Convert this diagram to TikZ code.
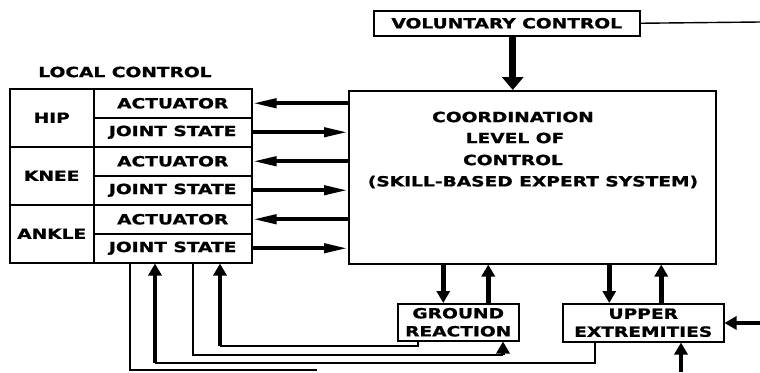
\documentclass[tikz,border=0pt]{standalone}
\usepackage{fontspec}
\setmainfont{DejaVu Sans}[FakeStretch=1.33,FakeBold=1.2]
\usetikzlibrary{arrows.meta}
\begin{document}
\begin{tikzpicture}[x=1pt,y=-1pt,
  font=\fontsize{14}{18}\selectfont\bfseries,
  box/.style={draw, line width=1.5pt, inner sep=0pt, anchor=north west, align=center},
  caption/.style={inner sep=0pt},
  wire/.style={line width=1.4pt},
  harrow/.style={line width=4pt, -{Triangle[length=24pt,width=9pt]}},
  varrow/.style={line width=4.5pt, -{Triangle[length=12pt,width=13pt]}},
  bigarrow/.style={line width=7pt, -{Triangle[length=13pt,width=21pt]}},
]
\useasboundingbox (0,0) rectangle (760,372);

% local control table
\node[caption] (localtitle) at (125,72) {LOCAL CONTROL};
\node[box, minimum width=84pt, minimum height=58pt] (hip)   at (9,88)  {HIP};
\node[box, minimum width=84pt, minimum height=58pt] (knee)  at (9,146) {KNEE};
\node[box, minimum width=84pt, minimum height=58pt] (ankle) at (9,204) {ANKLE};
\node[box, minimum width=158pt, minimum height=29pt] (hipact)   at (93,88)  {ACTUATOR};
\node[box, minimum width=158pt, minimum height=29pt] (hipjs)    at (93,117) {JOINT STATE};
\node[box, minimum width=158pt, minimum height=29pt] (kneeact)  at (93,146) {ACTUATOR};
\node[box, minimum width=158pt, minimum height=29pt] (kneejs)   at (93,175) {JOINT STATE};
\node[box, minimum width=158pt, minimum height=29pt] (ankleact) at (93,204) {ACTUATOR};
\node[box, minimum width=158pt, minimum height=29pt] (anklejs)  at (93,233) {JOINT STATE};

% coordination level
\node[box, minimum width=367pt, minimum height=173pt] (coord) at (348,90) {};
\node[caption] (cl1) at (513,117) {COORDINATION};
\node[caption] (cl2) at (515,138) {LEVEL OF};
\node[caption] (cl3) at (513,160) {CONTROL};
\node[caption] (cl4) at (533,182) {(SKILL-BASED EXPERT SYSTEM)};

% other blocks
\node[box, minimum width=266pt, minimum height=25pt] (vc) at (373,10) {VOLUNTARY CONTROL};
\node[box, minimum width=121pt, minimum height=37pt] (gr) at (397,303) {GROUND\\REACTION};
\node[box, minimum width=161pt, minimum height=38pt] (ue) at (562,303) {UPPER\\EXTREMITIES};

% actuator commands and joint state feedback
\foreach \j in {hip,knee,ankle}{
  \draw[harrow] (coord.west |- \j act.east) -- (\j act.east);
  \draw[harrow] (\j js.east) -- (coord.west |- \j js.east);
}

% voluntary control
\draw[bigarrow] ([xshift=6pt]vc.south) -- ([xshift=6pt]vc.south |- coord.north);
\coordinate (vcend) at (760,22);
\draw[wire] (vc.east) -- (vcend);

% coordination <-> ground reaction / upper extremities
\draw[varrow] ([xshift=-15pt]gr.north |- coord.south) -- ([xshift=-15pt]gr.north);
\draw[varrow] ([xshift=30pt]gr.north) -- ([xshift=30pt]gr.north |- coord.south);
\draw[varrow] ([xshift=-34pt]ue.north |- coord.south) -- ([xshift=-34pt]ue.north);
\draw[varrow] ([xshift=18pt]ue.north) -- ([xshift=18pt]ue.north |- coord.south);

% external inputs to upper extremities
\coordinate (uein) at (760,323);
\draw[varrow] (uein) -- (uein -| ue.east);
\coordinate (uebot) at (681,372);
\draw[varrow] (uebot) -- (uebot |- ue.south);

% feedback loops under the table
\coordinate (b1) at (317,370);
\draw[wire] ([xshift=37pt]anklejs.south west) |- (b1);
\coordinate (b2) at (155,363);
\draw[wire] ([xshift=33pt]ue.south west) |- (b2);
\draw[varrow] (b2) -- (b2 |- anklejs.south);
\coordinate (b3) at (503,355);
\draw[wire] ([xshift=100pt]anklejs.south west) |- (b3);
\draw[varrow] (b3) -- (b3 |- gr.south);
\coordinate (b4) at (220,346);
\draw[wire] ([xshift=21pt]gr.south west) |- (b4);
\draw[varrow] (b4) -- (b4 |- anklejs.south);
\end{tikzpicture}
\end{document}
